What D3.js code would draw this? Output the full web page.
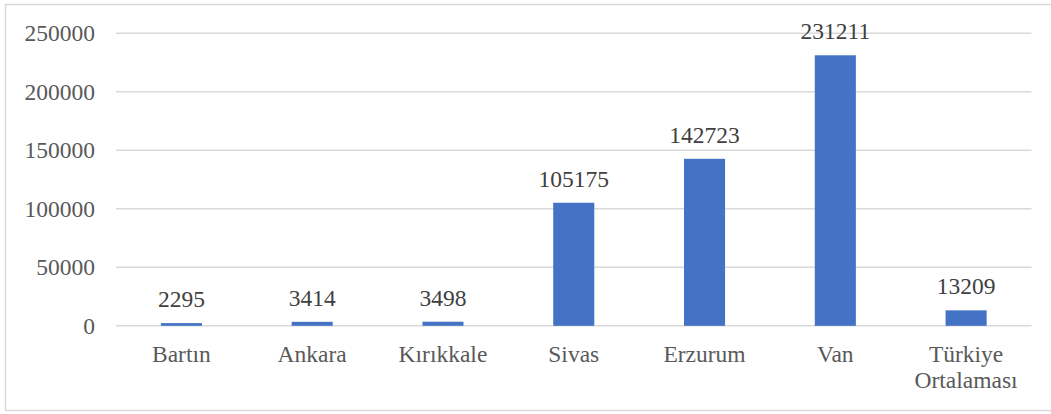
<!DOCTYPE html>
<html>
<head>
<meta charset="utf-8">
<script src="https://cdn.jsdelivr.net/npm/d3@7"></script>
<style>
  body { margin: 0; background: #fff; }
</style>
</head>
<body>
<div class="chart"></div>
<script>
var categories = ["Bartın", "Ankara", "Kırıkkale", "Sivas", "Erzurum", "Van", "Türkiye Ortalaması"];
var values = [2295, 3414, 3498, 105175, 142723, 231211, 13209];
var yTicks = [0, 50000, 100000, 150000, 200000, 250000];

var svgWidth = 1051;
var svgHeight = 414;
var serif = "'Liberation Serif', 'Times New Roman', Times, serif";

var margin = { top: 33.3, right: 19.5, bottom: 88.2, left: 116 };
var width = svgWidth - margin.left - margin.right;
var height = svgHeight - margin.top - margin.bottom;

var svg = d3.select(".chart")
  .append("svg")
  .attr("width", svgWidth)
  .attr("height", svgHeight)
  .style("font-family", serif);

// outer frame
svg.append("rect")
  .attr("x", 5.5)
  .attr("y", 4.5)
  .attr("width", svgWidth)
  .attr("height", 406)
  .attr("fill", "none")
  .attr("stroke", "#d9d9d9")
  .attr("stroke-width", 1.5);

var chartGroup = svg.append("g")
  .attr("transform", `translate(${margin.left}, ${margin.top})`);

var x = d3.scaleBand()
  .domain(categories)
  .range([0, width])
  .paddingInner(0.686)
  .paddingOuter(0.343);

var y = d3.scaleLinear()
  .domain([0, 250000])
  .range([height, 0]);

// gridlines
chartGroup.selectAll(".grid")
  .data(yTicks)
  .enter()
  .append("line")
  .attr("x1", 0)
  .attr("x2", width)
  .attr("y1", d => y(d))
  .attr("y2", d => y(d))
  .attr("stroke", "#d9d9d9")
  .attr("stroke-width", 1.5);

// y axis labels
var leftAxis = d3.axisLeft(y)
  .tickValues(yTicks)
  .tickFormat(d3.format("d"))
  .tickSize(0)
  .tickPadding(21);
var yAxis = chartGroup.append("g").call(leftAxis)
  .attr("font-family", null)
  .attr("font-size", null);
yAxis.select(".domain").remove();
yAxis.selectAll("text")
  .attr("fill", "#595959")
  .style("font-family", serif)
  .style("font-size", "23.5px");

// bars
chartGroup.selectAll(".bar")
  .data(values)
  .enter()
  .append("rect")
  .attr("class", "bar")
  .attr("x", (d, i) => x(categories[i]))
  .attr("y", d => y(d))
  .attr("width", x.bandwidth())
  .attr("height", d => height - y(d))
  .attr("fill", "#4472c4");

// value labels
chartGroup.selectAll(".val")
  .data(values)
  .enter()
  .append("text")
  .attr("class", "val")
  .attr("x", (d, i) => x(categories[i]) + x.bandwidth() / 2)
  .attr("y", d => y(d) - 16)
  .attr("text-anchor", "middle")
  .attr("fill", "#404040")
  .style("font-family", serif)
  .style("font-size", "23.5px")
  .text(d => d);

// category labels
var catLabels = chartGroup.selectAll(".cat")
  .data(categories)
  .enter()
  .append("text")
  .attr("class", "cat")
  .attr("x", d => x(d) + x.bandwidth() / 2)
  .attr("y", height + 36.5)
  .attr("text-anchor", "middle")
  .attr("fill", "#595959")
  .style("font-family", serif)
  .style("font-size", "23.5px");

catLabels.each(function(d) {
  var words = d === "Türkiye Ortalaması" ? ["Türkiye", "Ortalaması"] : [d];
  var t = d3.select(this);
  words.forEach(function(w, i) {
    t.append("tspan")
      .attr("x", x(d) + x.bandwidth() / 2)
      .attr("dy", i === 0 ? 0 : 26)
      .text(w);
  });
});
</script>
</body>
</html>
